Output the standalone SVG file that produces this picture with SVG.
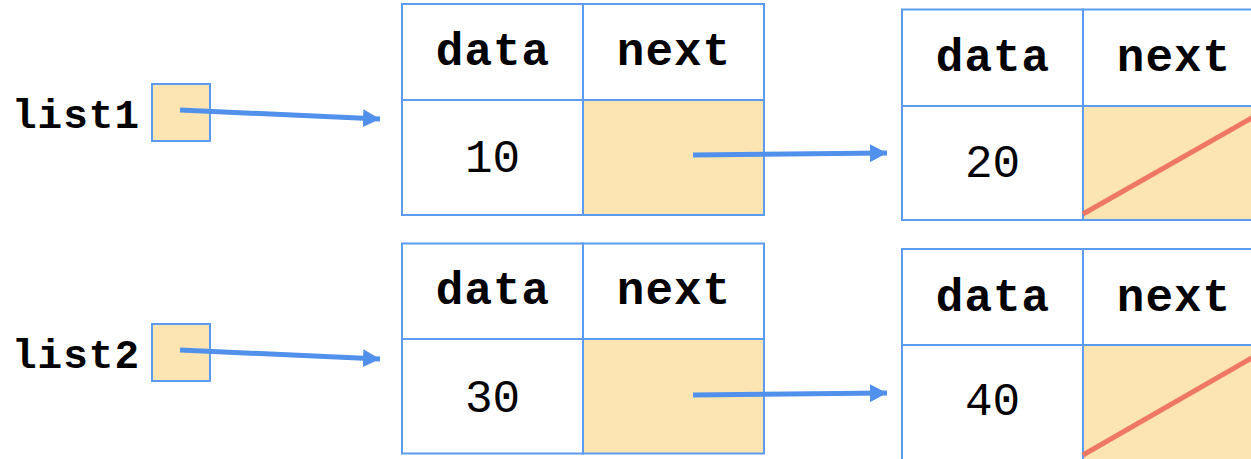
<svg xmlns="http://www.w3.org/2000/svg" width="1251" height="459" viewBox="0 0 1251 459">
  <style>
    .cell { fill: #ffffff; stroke: #5c9cf0; stroke-width: 2; }
    .ptr { fill: #fde5b3; stroke: #5c9cf0; stroke-width: 2; }
    .hdr { font-family: "Liberation Mono", "Courier New", monospace; font-weight: bold; font-size: 46px; letter-spacing: 1px; fill: #000; text-anchor: middle; }
    .val { font-family: "Liberation Mono", "Courier New", monospace; font-size: 46px; fill: #000; text-anchor: middle; }
    .lbl { font-family: "Liberation Mono", "Courier New", monospace; font-weight: bold; font-size: 41px; letter-spacing: 1px; fill: #000; text-anchor: end; }
    .arrow { stroke: #5191ec; stroke-width: 5; fill: none; marker-end: url(#ah); }
    .null { stroke: #ee7864; stroke-width: 5; }
  </style>
  <defs>
    <marker id="ah" markerUnits="userSpaceOnUse" markerWidth="18" markerHeight="18" refX="17" refY="9" orient="auto">
      <path d="M0,0 L17,9 L0,18 Z" fill="#5191ec"/>
    </marker>
  </defs>

  <g id="list1">
    <text class="lbl" x="140" y="128">list1</text>
    <rect class="ptr" x="152" y="84" width="58" height="57"/>
  </g>
  <g id="list2">
    <text class="lbl" x="140" y="368">list2</text>
    <rect class="ptr" x="152" y="324" width="58" height="57"/>
  </g>

  <g id="node10">
    <rect class="cell" x="402" y="4" width="181" height="96"/>
    <rect class="cell" x="583" y="4" width="181" height="96"/>
    <rect class="cell" x="402" y="100" width="181" height="115"/>
    <rect class="ptr" x="583" y="100" width="181" height="115"/>
    <text class="hdr" x="493" y="65">data</text>
    <text class="hdr" x="674" y="65">next</text>
    <text class="val" x="492.5" y="172">10</text>
  </g>

  <g id="node20">
    <rect class="cell" x="902" y="9.5" width="181" height="96.5"/>
    <rect class="cell" x="1083" y="9.5" width="181" height="96.5"/>
    <rect class="cell" x="902" y="106" width="181" height="114"/>
    <rect class="ptr" x="1083" y="106" width="181" height="114"/>
    <text class="hdr" x="993" y="71">data</text>
    <text class="hdr" x="1174" y="71">next</text>
    <text class="val" x="992.5" y="177">20</text>
    <line class="null" x1="1083" y1="214" x2="1264" y2="111"/>
  </g>

  <g id="node30">
    <rect class="cell" x="402" y="243.5" width="181" height="95.5"/>
    <rect class="cell" x="583" y="243.5" width="181" height="95.5"/>
    <rect class="cell" x="402" y="339" width="181" height="114.5"/>
    <rect class="ptr" x="583" y="339" width="181" height="114.5"/>
    <text class="hdr" x="493" y="304">data</text>
    <text class="hdr" x="674" y="304">next</text>
    <text class="val" x="492.5" y="411.5">30</text>
  </g>

  <g id="node40">
    <rect class="cell" x="902" y="249" width="181" height="96"/>
    <rect class="cell" x="1083" y="249" width="181" height="96"/>
    <rect class="cell" x="902" y="345" width="181" height="115"/>
    <rect class="ptr" x="1083" y="345" width="181" height="115"/>
    <text class="hdr" x="993" y="311">data</text>
    <text class="hdr" x="1174" y="311">next</text>
    <text class="val" x="992.5" y="415">40</text>
    <line class="null" x1="1083" y1="455" x2="1264" y2="351"/>
  </g>

  <g id="connectors">
    <line class="arrow" x1="180" y1="110" x2="380" y2="119"/>
    <line class="arrow" x1="180" y1="350" x2="380" y2="359"/>
    <line class="arrow" x1="693" y1="155" x2="887" y2="153"/>
    <line class="arrow" x1="693" y1="395" x2="887" y2="393"/>
  </g>
</svg>
